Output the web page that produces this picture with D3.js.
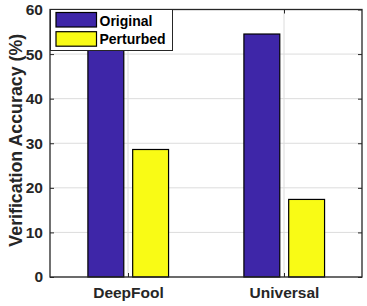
<!DOCTYPE html>
<html><head><meta charset="utf-8">
<script src="https://cdn.jsdelivr.net/npm/d3@7"></script>
<style>
html,body{margin:0;padding:0;background:#fff;}
svg text{font-family:"Liberation Sans",Arial,Helvetica,sans-serif;font-weight:bold;}
</style></head>
<body>
<svg id="chart" width="367" height="306"></svg>
<script>
const categories = ["DeepFool", "Universal"];
const seriesNames = ["Original", "Perturbed"];
const original = [53, 54.5];
const perturbed = [28.6, 17.4];
const yTicks = [0, 10, 20, 30, 40, 50, 60];
const colors = ["#3E26A8", "#F9FB15"];

const W = 367, H = 306;
const m = {l: 50, r: 5, t: 9.5, b: 29};
const svg = d3.select("#chart");
const pw = W - m.l - m.r, ph = H - m.t - m.b;
const g = svg.append("g").attr("transform", `translate(${m.l},${m.t})`);

const x = d3.scaleLinear().domain([0.5, categories.length + 0.5]).range([0, pw]);
const y = d3.scaleLinear().domain([0, 60]).range([ph, 0]);

// grid
g.append("g").selectAll("line.h").data(yTicks).join("line")
  .attr("x1", 0).attr("x2", pw).attr("y1", d => y(d)).attr("y2", d => y(d))
  .attr("stroke", "#dcdcdc").attr("stroke-width", 1);
g.append("g").selectAll("line.v").data(categories).join("line")
  .attr("x1", (d,i) => x(i+1)).attr("x2", (d,i) => x(i+1)).attr("y1", 0).attr("y2", ph)
  .attr("stroke", "#dcdcdc").attr("stroke-width", 1);

// bars
const series = [original, perturbed];
const offsets = [-0.142, 0.145];
const bw = x(0.5 + 0.23) - x(0.5);
series.forEach((vals, s) => {
  g.append("g").selectAll("rect").data(vals).join("rect")
    .attr("x", (d,i) => x(i + 1 + offsets[s]) - bw/2)
    .attr("width", bw)
    .attr("y", d => y(d))
    .attr("height", d => y(0) - y(d))
    .attr("fill", colors[s])
    .attr("stroke", "#000").attr("stroke-width", 1.2);
});

// axes
const yAxisL = d3.axisLeft(y).tickValues(yTicks).tickSizeInner(-4).tickSizeOuter(0).tickPadding(7);
const yAxisR = d3.axisRight(y).tickValues(yTicks).tickSizeInner(-4).tickSizeOuter(0).tickFormat("");
const xAxisB = d3.axisBottom(x).tickValues(categories.map((d,i)=>i+1)).tickFormat((d)=>categories[d-1]).tickSizeInner(-4).tickSizeOuter(0).tickPadding(10);
const xAxisT = d3.axisTop(x).tickValues(categories.map((d,i)=>i+1)).tickFormat("").tickSizeInner(-4).tickSizeOuter(0);

function style(sel, fs){
  sel.select(".domain").remove();
  sel.selectAll("line").attr("stroke", "#262626");
  sel.selectAll("text").attr("fill", "#262626").style("font-size", fs);
}
g.append("g").call(yAxisL).call(s => style(s, "15.5px"));
g.append("g").attr("transform", `translate(${pw},0)`).call(yAxisR).call(s => style(s, "15px"));
g.append("g").attr("transform", `translate(0,${ph})`).call(xAxisB).call(s => style(s, "15.5px"));
g.append("g").call(xAxisT).call(s => style(s, "15px"));

g.append("rect").attr("x", 0).attr("y", 0).attr("width", pw).attr("height", ph)
  .attr("fill", "none").attr("stroke", "#262626").attr("stroke-width", 1.3);

// y label
svg.append("text")
  .attr("transform", `translate(22,${m.t + ph/2 - 3}) rotate(-90)`)
  .attr("text-anchor", "middle")
  .attr("fill", "#262626")
  .style("font-size", "17.8px")
  .text("Verification Accuracy (%)");

// legend
const lg = svg.append("g").attr("transform", `translate(${m.l},${m.t})`);
lg.append("rect").attr("x", 0.5).attr("y", 0).attr("width", 122).attr("height", 41)
  .attr("fill", "#fff").attr("stroke", "#262626").attr("stroke-width", 1);
seriesNames.forEach((nm, i) => {
  lg.append("rect").attr("x", 6).attr("y", 3 + i*19.2).attr("width", 40.5).attr("height", 14.5)
    .attr("fill", colors[i]).attr("stroke", "#000").attr("stroke-width", 1.2);
  lg.append("text").attr("x", 49.5).attr("y", 16 + i*18.5)
    .attr("fill", "#000").style("font-size", "14px").text(nm);
});
</script>
</body></html>
